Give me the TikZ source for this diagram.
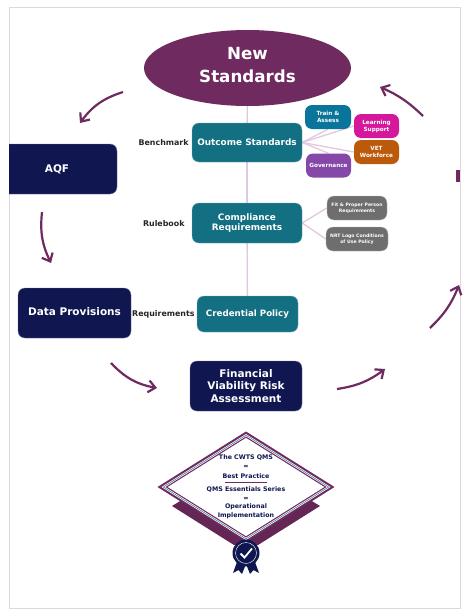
\documentclass[tikz,border=0pt]{standalone}
\usepackage{fontspec}
\setmainfont{DejaVu Sans}
\usetikzlibrary{arrows.meta,positioning,shapes.geometric,calc,backgrounds}
\definecolor{plum}{HTML}{6F2A5F}
\definecolor{navy}{HTML}{0F1650}
\definecolor{tealbox}{HTML}{136F82}
\definecolor{trainblue}{HTML}{0A759B}
\definecolor{magentabox}{HTML}{D5189B}
\definecolor{orangebox}{HTML}{BC5A0C}
\definecolor{purplebox}{HTML}{8547A8}
\definecolor{greybox}{HTML}{6E6E6E}
\definecolor{spine}{HTML}{E2C8DE}
\definecolor{framec}{HTML}{E2D5E0}
\definecolor{bandteal}{HTML}{3E7F94}
\newcommand{\fs}[1]{\fontsize{#1}{1.22\dimexpr#1pt\relax}\selectfont\bfseries}

\begin{document}
\begin{tikzpicture}[
  x=1pt, y=-1pt,
  box/.style={rounded corners=7pt, inner sep=1pt, align=center, text=white},
  main/.style={box, fill=tealbox, draw=tealbox!60, thin, font=\fs{8.9}},
  dark/.style={box, fill=navy, draw=navy!60, thin, font=\fs{10.5}},
  leaf/.style={box, minimum width=45pt, minimum height=24pt, font=\fs{5.7}},
  note/.style={box, fill=greybox, draw=greybox!50, thin, font=\fs{4.6}},
  tag/.style={inner sep=0pt, text=black!85, font=\fs{7.9}},
  link/.style={draw=spine, line width=1.3pt},
  swoop/.style={-{Straight Barb[length=7pt, width=12pt]}, plum, line width=2.2pt},
  seal/.style={inner sep=0pt, text=navy, font=\fs{6.3}}
]
\useasboundingbox (0,0) rectangle (468,613);
% ---------------- frame ----------------
\draw[framec, line width=1pt] (9.5,7) rectangle (460.5,608);
% ---------------- central spine ----------------
\node[ellipse, fill=plum, inner sep=0pt, minimum width=207pt, minimum height=76pt,
      align=center, text=white, font=\fs{16.7}] (std) at (247.5,68) {New\\[2.5pt]Standards\\[-14pt]\mbox{}};
\node[main, minimum width=110pt, minimum height=39pt] (outcome) at (247,142.5) {Outcome Standards};
\node[main, minimum width=110pt, minimum height=40pt] (comply) at (247,223) {Compliance\\Requirements};
\node[main, minimum width=101pt, minimum height=36pt, font=\fs{8.7}] (cred) at (247.5,314) {Credential Policy};
\node[dark, minimum width=112pt, minimum height=50pt] (fin) at (246,386) {Financial\\Viability Risk\\Assessment};
% ---------------- left boxes ----------------
\begin{scope}
  \clip (9,0) rectangle (468,613);
  \node[dark, minimum width=120pt, minimum height=50pt] (aqf) at (57,169) {AQF};
\end{scope}
\node[dark, minimum width=113pt, minimum height=50pt] (data) at (74.5,313) {Data Provisions\\[-9pt]\mbox{}};
% ---------------- tags ----------------
\node[tag, left=3pt of outcome] (bench) {Benchmark};
\node[tag, left=7pt of comply, yshift=-1pt] (rule) {Rulebook};
\node[tag, left=2pt of cred] (req) {Requirements};
% ---------------- outcome leaves ----------------
\node[leaf, fill=trainblue, minimum width=46pt] (train) at (328,117) {Train \&\\Assess};
\node[leaf, fill=magentabox] (learn) at (376.5,126) {Learning\\Support};
\node[leaf, fill=orangebox] (vet) at (376.5,152) {VET\\Workforce};
\node[leaf, fill=purplebox, minimum width=45pt] (gov) at (328.5,165.5) {Governance};
% ---------------- compliance notes ----------------
\node[note, minimum width=60pt, minimum height=24pt] (fit) at (357,208) {Fit \& Proper Person\\Requirements};
\node[note, minimum width=62pt, minimum height=24pt] (nrt) at (357,239) {NRT Logo Conditions\\of Use Policy};
% ---------------- links ----------------
\begin{pgfonlayer}{background}
\draw[link] (std) -- (outcome);
\draw[link] (outcome) -- (comply);
\draw[link] (comply) -- (cred);
\draw[link] (outcome.east) -- (train.south);
\draw[link] (outcome.east) -- (learn.west);
\draw[link] (outcome.east) -- (vet.west);
\draw[link] (outcome.east) -- (gov.north);
\draw[link] (comply.east) -- (fit.west);
\draw[link] (comply.east) -- (nrt.west);
\end{pgfonlayer}
% ---------------- cycle arrows ----------------
\coordinate (a1) at (123,92);   \coordinate (a2) at (80,123);
\coordinate (b1) at (42,212);   \coordinate (b2) at (51,263);
\coordinate (c1) at (111,363);  \coordinate (c2) at (157,388);
\coordinate (d1) at (337,389);  \coordinate (d2) at (385,369);
\coordinate (e1) at (430,328);  \coordinate (e2) at (459,285);
\coordinate (f1) at (423,116);  \coordinate (f2) at (380,87);
\draw[swoop] (a1) to[bend right=18] (a2);
\draw[swoop] (b1) to[bend right=16] (b2);
\draw[swoop] (c1) to[bend right=18] (c2);
\draw[swoop] (d1) to[bend right=14] (d2);
\draw[swoop] (e1) to[bend right=12] (e2);
\draw[swoop] (f1) to[bend right=10] (f2);
\fill[plum] (456,170) rectangle (460,182);
% ---------------- seal ----------------
\fill[plum!90!black] (172,506) -- (190,495) -- (302,495) -- (320,506) -- (258,545) -- (234,545) -- cycle;
\foreach \s/\c in {1/plum, .955/white, .94/bandteal, .925/white, .91/plum, .885/white}
  \fill[\c] ($(246,487)+(0,-55.5*\s)$) -- ($(246,487)+(88.5*\s,0)$)
    -- ($(246,487)+(0,55.5*\s)$) -- ($(246,487)+(-88.5*\s,0)$) -- cycle;
\fill[navy] (237,562) -- (233,573) -- (238.5,570) -- (242,574) -- (246,564) -- (250,574)
  -- (253.5,570) -- (259,573) -- (255,562) -- cycle;
\node[circle, fill=navy, minimum size=27pt, inner sep=0pt] (medal) at (246,553) {};
\draw[white, line width=.4pt] (medal) circle (10.5pt);
\draw[white, line width=1.8pt] (240.5,553.5) -- (244.5,557.5) -- (252,548.5);
\node[seal] (s1) at (246,458) {The CWTS QMS};
\node[seal] (s2) at (246,467) {=};
\node[seal] (s3) at (246,476) {Best Practice};
\node[seal] (s4) at (246,490) {QMS Essentials Series};
\node[seal] (s5) at (246,498.5) {=};
\node[seal] (s6) at (246,507) {Operational};
\node[seal] (s7) at (246,516) {Implementation};
\draw[plum, line width=.6pt] ($(s3.south)+(-21,4)$) -- ($(s3.south)+(21,4)$);
\end{tikzpicture}
\end{document}
